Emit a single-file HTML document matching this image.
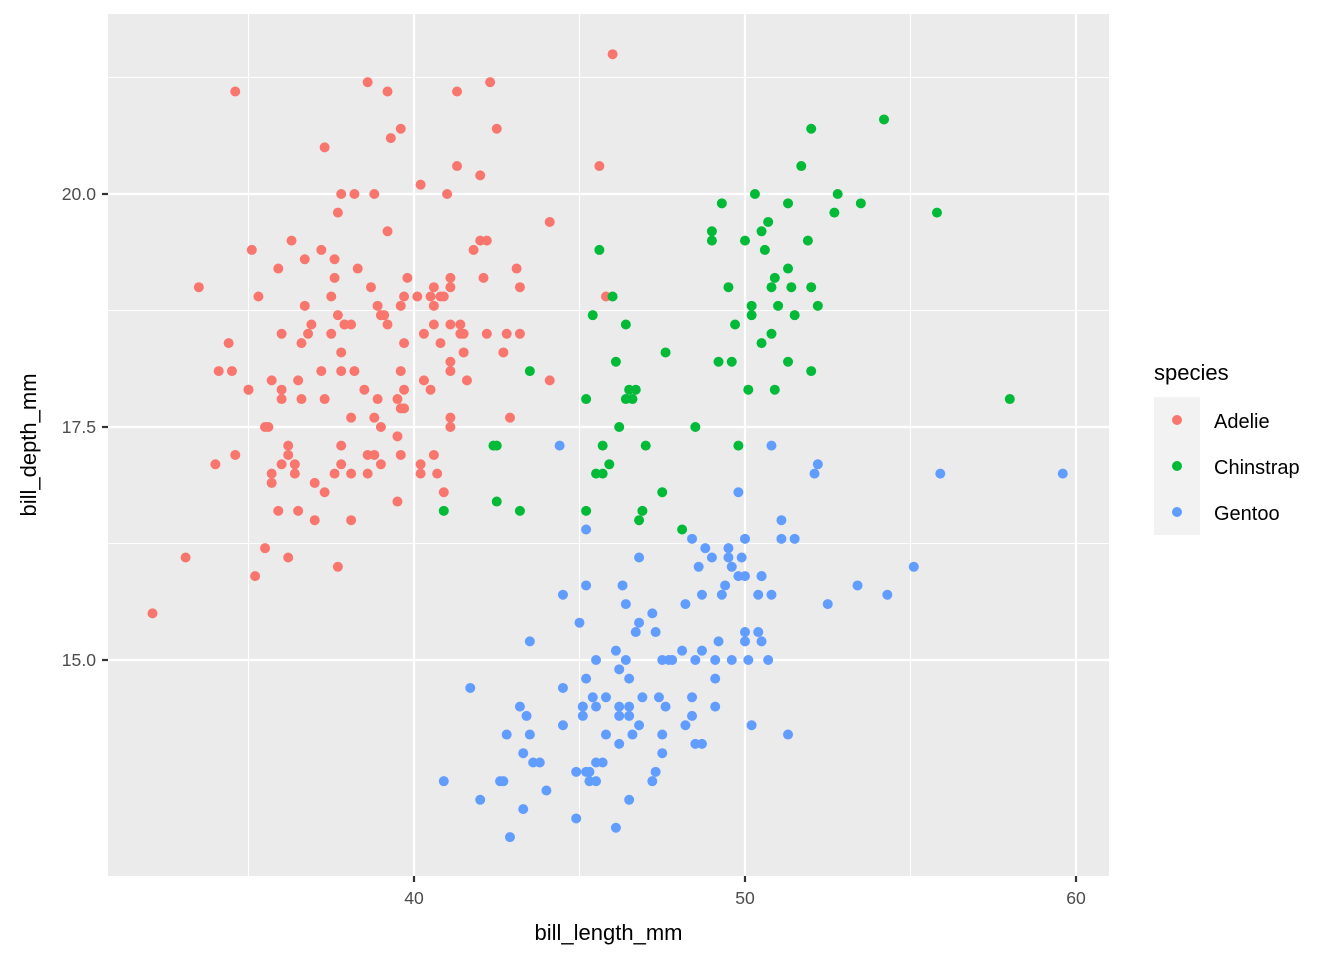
<!DOCTYPE html>
<html><head><meta charset="utf-8"><style>
html,body{margin:0;padding:0;background:#fff;}
svg{display:block;font-family:"Liberation Sans",Arial,sans-serif;}
</style></head><body>
<svg id="chart" width="1344" height="960" viewBox="0 0 1344 960" xmlns="http://www.w3.org/2000/svg">
<rect x="108" y="14" width="1001" height="862" fill="#EBEBEB"/>
<g id="grid"></g>
<g id="points"></g>
<g id="axes"></g>
<text x="608.5" y="940" font-size="22" text-anchor="middle" fill="#000">bill_length_mm</text>
<text x="0" y="0" font-size="22" text-anchor="middle" fill="#000" transform="translate(36,445) rotate(-90)">bill_depth_mm</text>
<g>
<text x="1154" y="380" font-size="22" fill="#000">species</text>
<rect x="1154" y="397" width="46" height="138" fill="#F2F2F2"/>
<circle cx="1177" cy="420" r="5" fill="#F8766D"/>
<circle cx="1177" cy="466" r="5" fill="#00BA38"/>
<circle cx="1177" cy="512" r="5" fill="#619CFF"/>
<text x="1214" y="428" font-size="20" fill="#000">Adelie</text>
<text x="1214" y="474" font-size="20" fill="#000">Chinstrap</text>
<text x="1214" y="520" font-size="20" fill="#000">Gentoo</text>
</g>
</svg>
<script>
const xTicks = [40, 50, 60];
const yTicks = [15, 17.5, 20];
const xTickLabels = ["40", "50", "60"];
const yTickLabels = ["15.0", "17.5", "20.0"];
const xMinor = [35, 45, 55];
const yMinor = [12.5, 16.25, 18.75, 21.25];
const adelieX = [39.1,39.5,40.3,36.7,39.3,38.9,39.2,34.1,42,37.8,37.8,41.1,38.6,34.6,36.6,38.7,42.5,34.4,46,37.8,37.7,35.9,38.2,38.8,35.3,40.6,40.5,37.9,40.5,39.5,37.2,39.5,40.9,36.4,39.2,38.8,42.2,37.6,39.8,36.5,40.8,36,44.1,37,39.6,41.1,37.5,36,42.3,39.6,40.1,35,42,34.5,41.4,39,40.6,36.5,37.6,35.7,41.3,37.6,41.1,36.4,41.6,35.5,41.1,35.9,41.8,33.5,39.7,39.6,45.8,35.5,42.8,40.9,37.2,36.2,42.1,34.6,42.9,36.7,35.1,37.3,41.3,36.3,36.9,38.3,38.9,35.7,41.1,34,39.6,36.2,40.8,38.1,40.3,33.1,43.2,35,41,37.7,37.8,37.9,39.7,38.6,38.2,38.1,43.2,38.1,45.6,39.7,42.2,39.6,42.7,38.6,37.3,35.7,41.1,36.2,37.7,40.2,41.4,35.2,40.6,38.8,41.5,39,44.1,38.5,43.1,36.8,37.5,38.1,41.1,35.6,40.2,37,39.7,40.2,40.6,32.1,40.7,37.3,39,39.2,36.6,36,37.8,36,41.5];
const adelieY = [18.7,17.4,18,19.3,20.6,17.8,19.6,18.1,20.2,17.1,17.3,17.6,21.2,21.1,17.8,19,20.7,18.4,21.5,18.3,18.7,19.2,18.1,17.2,18.9,18.6,17.9,18.6,18.9,16.7,18.1,17.8,18.9,17,21.1,20,18.5,19.3,19.1,18,18.4,18.5,19.7,16.9,18.8,19,18.9,17.9,21.2,17.7,18.9,17.9,19.5,18.1,18.6,17.5,18.8,16.6,19.1,16.9,21.1,17,18.2,17.1,18,16.2,19.1,16.6,19.4,19,18.4,17.2,18.9,17.5,18.5,16.8,19.4,16.1,19.1,17.2,17.6,18.8,19.4,17.8,20.3,19.5,18.6,19.2,18.8,18,18.1,17.1,18.1,17.3,18.9,18.6,18.5,16.1,18.5,17.9,20,16,20,18.6,18.9,17.2,20,17,19,16.5,20.3,17.7,19.5,20.7,18.3,17,20.5,17,18.6,17.2,19.8,17,18.5,15.9,19,17.6,18.3,17.1,18,17.9,19.2,18.5,18.5,17.6,17.5,17.5,20.1,16.5,17.9,17.1,17.2,15.5,17,16.8,18.7,18.6,18.4,17.8,18.1,17.1,18.5];
const chinstrapX = [46.5,50,51.3,45.4,52.7,45.2,46.1,51.3,46,51.3,46.6,51.7,47,52,45.9,50.5,50.3,58,46.4,49.2,42.4,48.5,43.2,50.6,46.7,52,50.5,49.5,46.4,52.8,40.9,54.2,42.5,51,49.7,47.5,47.6,52,46.9,53.5,49,46.2,50.9,45.5,50.9,50.8,50.1,49,51.5,49.8,48.1,51.4,45.7,50.7,42.5,52.2,45.2,49.3,50.2,45.6,51.9,46.8,45.7,55.8,43.5,49.6,50.8,50.2];
const chinstrapY = [17.9,19.5,19.2,18.7,19.8,17.8,18.2,18.2,18.9,19.9,17.8,20.3,17.3,18.1,17.1,19.6,20,17.8,18.6,18.2,17.3,17.5,16.6,19.4,17.9,19,18.4,19,17.8,20,16.6,20.8,16.7,18.8,18.6,16.8,18.3,20.7,16.6,19.9,19.5,17.5,19.1,17,17.9,18.5,17.9,19.6,18.7,17.3,16.4,19,17.3,19.7,17.3,18.8,16.6,19.9,18.8,19.4,19.5,16.5,17,19.8,18.1,18.2,19,18.7];
const gentooX = [46.1,50,48.7,50,47.6,46.5,45.4,46.7,43.3,46.8,40.9,49,45.5,48.4,45.8,49.3,42,49.2,46.2,48.7,50.2,45.1,46.5,46.3,42.9,46.1,44.5,47.8,48.2,50,47.3,42.8,45.1,59.6,49.1,48.4,42.6,44.4,44,48.7,42.7,49.6,45.3,49.6,50.5,43.6,45.5,50.5,44.9,45.2,46.6,48.5,45.1,50.1,46.5,45,43.8,45.5,43.2,50.4,45.3,46.2,45.7,54.3,45.8,49.8,46.2,49.5,43.5,50.7,47.7,46.4,48.2,46.5,46.4,48.6,47.5,51.1,45.2,45.2,49.1,52.5,47.4,50,44.9,50.8,43.4,51.3,47.5,52.1,47.5,52.2,45.5,49.5,44.5,50.8,49.4,46.9,48.4,51.1,48.5,55.9,47.2,49.1,47.3,46.8,41.7,53.4,43.3,48.1,50.5,49.8,43.5,51.5,46.2,55.1,44.5,48.8,47.2,46.8,50.4,45.2,49.9];
const gentooY = [13.2,16.3,14.1,15.2,14.5,13.5,14.6,15.3,13.4,15.4,13.7,16.1,13.7,14.6,14.6,15.7,13.5,15.2,14.5,15.1,14.3,14.5,14.5,15.8,13.1,15.1,14.3,15,14.3,15.3,15.3,14.2,14.5,17,14.8,16.3,13.7,17.3,13.6,15.7,13.7,16,13.7,15,15.9,13.9,13.9,15.9,13.3,15.8,14.2,14.1,14.4,15,14.4,15.4,13.9,15,14.5,15.3,13.8,14.9,13.9,15.7,14.2,16.8,14.4,16.2,14.2,15,15,15.6,15.6,14.8,15,16,14.2,16.3,13.8,16.4,14.5,15.6,14.6,15.9,13.8,17.3,14.4,14.2,14,17,15,17.1,14.5,16.1,14.7,15.7,15.8,14.6,14.4,16.5,15,17,15.5,15,13.8,16.1,14.7,15.8,14,15.1,15.2,15.9,15.2,16.3,14.1,16,15.7,16.2,13.7,14.3,15.7,14.8,16.1];

const NS = "http://www.w3.org/2000/svg";
function xScale(v){ return 414 + (v - 40) * 33.1; }
function yScale(v){ return 194 - (v - 20) * 93.2; }
const grid = document.getElementById('grid');
const axes = document.getElementById('axes');
const pts = document.getElementById('points');
function line(parent, x1, y1, x2, y2, stroke, w){
  const l = document.createElementNS(NS, 'line');
  l.setAttribute('x1', x1); l.setAttribute('y1', y1);
  l.setAttribute('x2', x2); l.setAttribute('y2', y2);
  l.setAttribute('stroke', stroke); l.setAttribute('stroke-width', w);
  parent.appendChild(l);
  return l;
}
xMinor.forEach(v => {
  const l = line(grid, xScale(v), 14, xScale(v), 876, '#fff', 1.1);
  
  
});
yMinor.forEach(v => {
  const l = line(grid, 108, yScale(v), 1109, yScale(v), '#fff', 1.1);
  
  
});
xTicks.forEach((v, i) => {
  const l = line(grid, xScale(v), 14, xScale(v), 876, '#fff', 2.2);
  
  
  const t = line(axes, xScale(v), 876, xScale(v), 882, '#333', 2.2);
  
  
  const tx = document.createElementNS(NS, 'text');
  
  
  tx.setAttribute('x', xScale(v)); tx.setAttribute('y', 904);
  tx.setAttribute('font-size', '17.6'); tx.setAttribute('text-anchor', 'middle');
  tx.setAttribute('fill', '#4D4D4D');
  tx.textContent = xTickLabels[i];
  axes.appendChild(tx);
});
yTicks.forEach((v, i) => {
  const l = line(grid, 108, yScale(v), 1109, yScale(v), '#fff', 2.2);
  
  
  const t = line(axes, 102, yScale(v), 108, yScale(v), '#333', 2.2);
  
  
  const tx = document.createElementNS(NS, 'text');
  
  
  tx.setAttribute('x', 96); tx.setAttribute('y', yScale(v) + 6);
  tx.setAttribute('font-size', '17.6'); tx.setAttribute('text-anchor', 'end');
  tx.setAttribute('fill', '#4D4D4D');
  tx.textContent = yTickLabels[i];
  axes.appendChild(tx);
});
function drawSeries(xs, ys, color, name){
  xs.forEach((x, i) => {
    const c = document.createElementNS(NS, 'circle');
    
    
    c.setAttribute('cx', xScale(x)); c.setAttribute('cy', yScale(ys[i]));
    c.setAttribute('r', 5); c.setAttribute('fill', color);
    pts.appendChild(c);
  });
}
drawSeries(adelieX, adelieY, '#F8766D', 'point-adelie');
drawSeries(chinstrapX, chinstrapY, '#00BA38', 'point-chinstrap');
drawSeries(gentooX, gentooY, '#619CFF', 'point-gentoo');
</script>
</body></html>
